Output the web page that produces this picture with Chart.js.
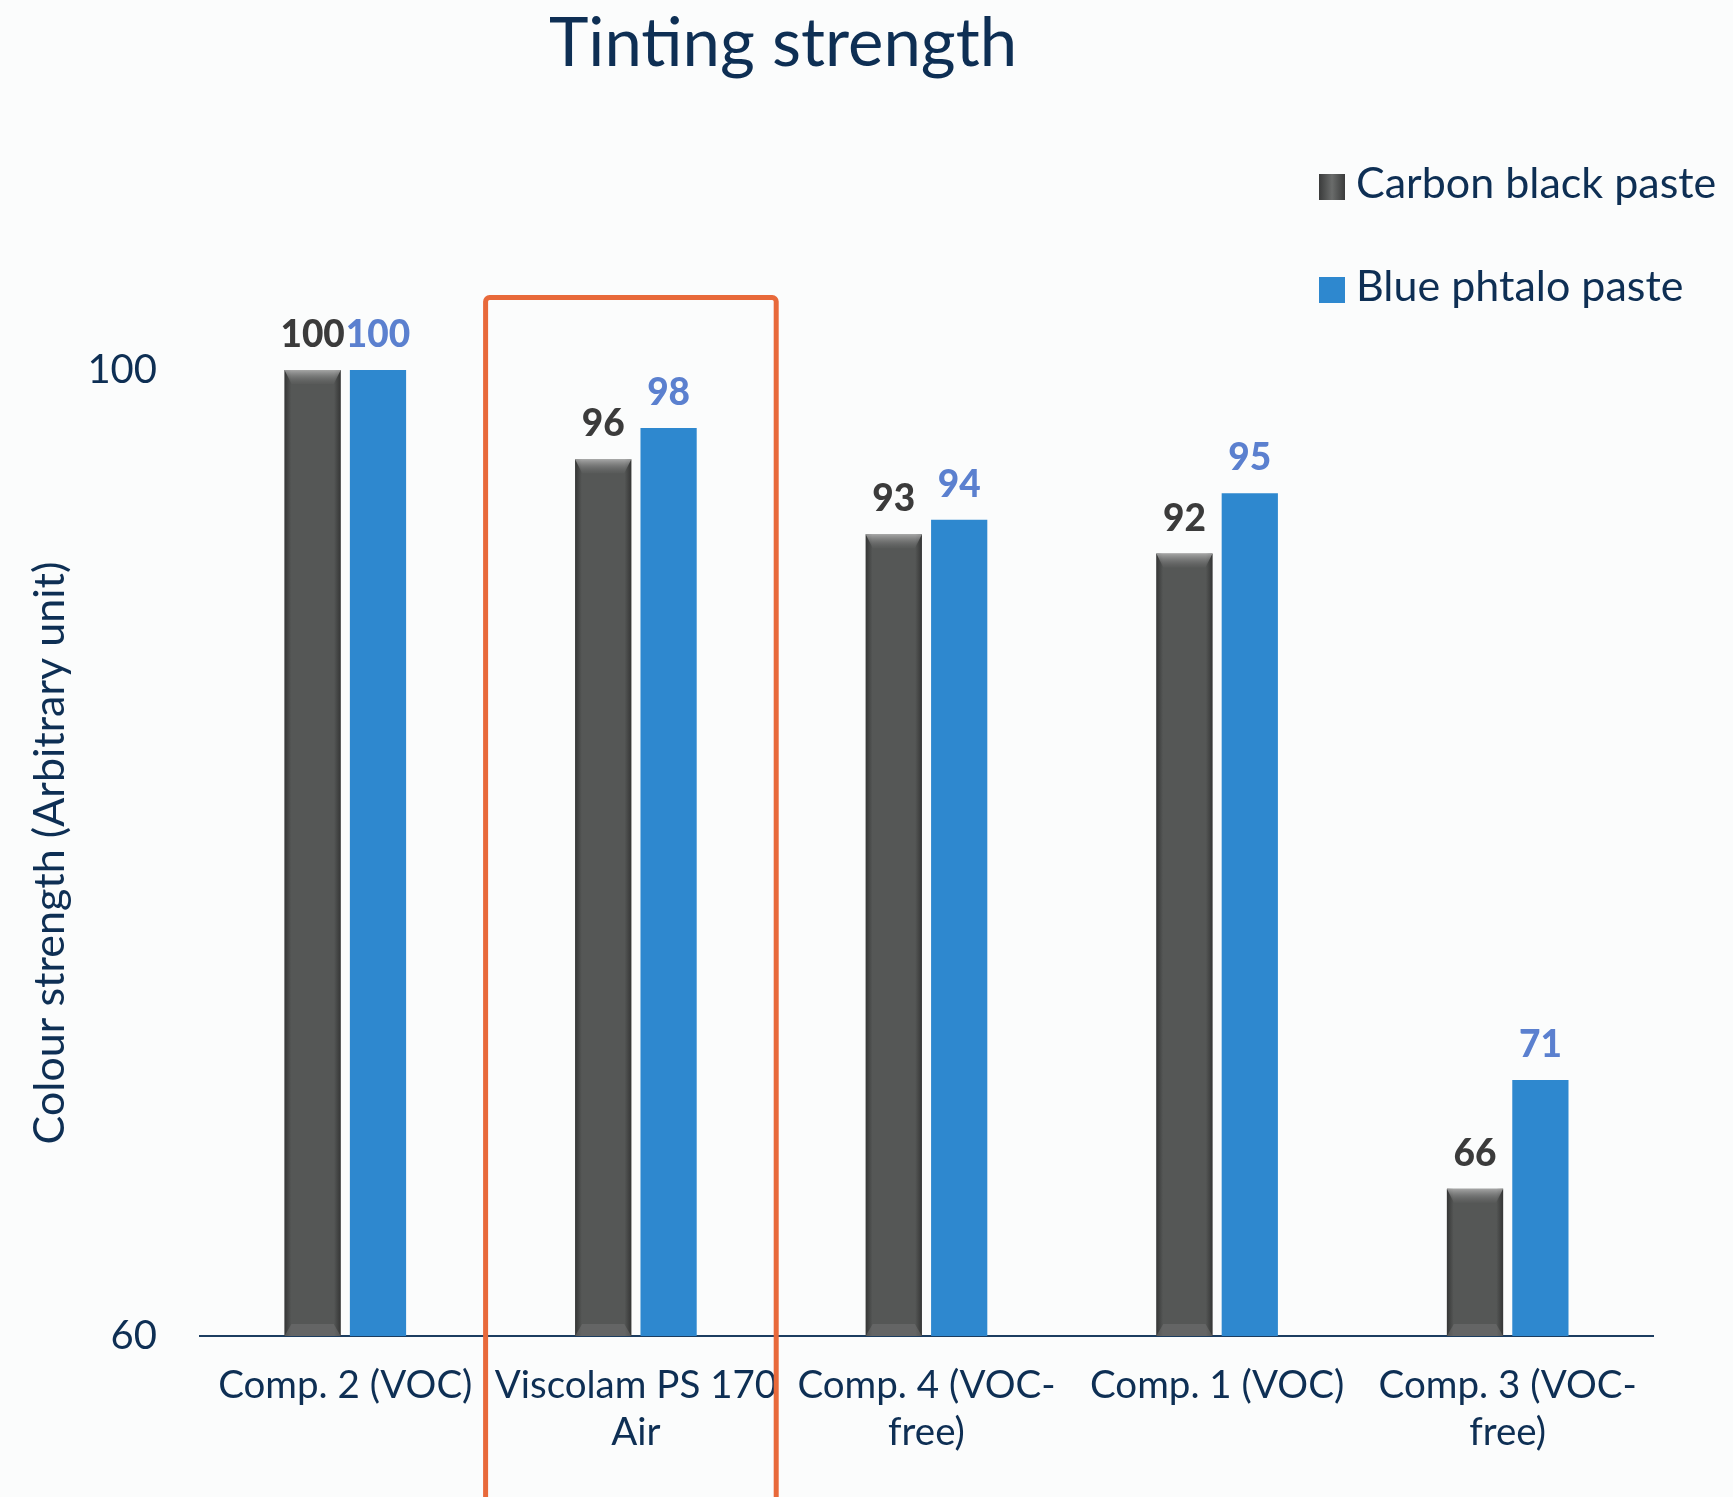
<!DOCTYPE html>
<html>
<head>
<meta charset="utf-8">
<title>Tinting strength</title>
<script src="https://cdn.jsdelivr.net/npm/chart.js@4.4.1/dist/chart.umd.min.js"></script>
<style>
  html, body { margin: 0; padding: 0; background: #fbfcfc; }
  #wrap { position: relative; width: 1733px; height: 1497px; }
</style>
</head>
<body>
<div id="wrap"><canvas id="Canvas-Main"></canvas></div>
<script>
// chart data (bar heights, labels show rounded values)
var categories = [
    ['Comp. 2 (VOC)'],
    ['Viscolam PS 170', 'Air'],
    ['Comp. 4 (VOC-', 'free)'],
    ['Comp. 1 (VOC)'],
    ['Comp. 3 (VOC-', 'free)']
];
var carbonBlack = [100, 96.3, 93.2, 92.4, 66.1];
var bluePhtalo = [100, 97.6, 93.8, 94.9, 70.6];
var yTicks = [60, 100];
var highlightIndex = 1; // Viscolam PS 170 Air

var navy = '#0e2f54';
var font = 'Lato, "Open Sans", sans-serif';

// gray bars get a bevelled look like the original
var bevelPlugin = {
    id: 'bevel',
    afterDatasetDraw: function (chart, args) {
        if (args.index !== 0) return;
        var ctx = chart.ctx;
        args.meta.data.forEach(function (bar) {
            var w = bar.width, l = bar.x - w / 2, r = bar.x + w / 2, t = bar.y;
            var b = Math.min(bar.base, chart.chartArea.bottom);
            ctx.save();
            var g = ctx.createLinearGradient(l, 0, r, 0);
            g.addColorStop(0, 'rgba(20,20,20,0.5)');
            g.addColorStop(0.12, 'rgba(20,20,20,0)');
            g.addColorStop(0.88, 'rgba(20,20,20,0)');
            g.addColorStop(1, 'rgba(20,20,20,0.5)');
            ctx.fillStyle = g;
            ctx.fillRect(l, t, w, b - t);
            // top highlight
            var tg = ctx.createLinearGradient(0, t, 0, t + 14);
            tg.addColorStop(0, 'rgba(200,200,200,0.7)');
            tg.addColorStop(1, 'rgba(120,120,120,0.1)');
            ctx.fillStyle = tg;
            ctx.beginPath();
            ctx.moveTo(l, t); ctx.lineTo(r, t); ctx.lineTo(r - 7, t + 14); ctx.lineTo(l + 7, t + 14);
            ctx.closePath(); ctx.fill();
            // bottom shade
            ctx.fillStyle = 'rgba(120,120,120,0.45)';
            ctx.beginPath();
            ctx.moveTo(l, b); ctx.lineTo(r, b); ctx.lineTo(r - 7, b - 12); ctx.lineTo(l + 7, b - 12);
            ctx.closePath(); ctx.fill();
            ctx.restore();
        });
    }
};

var labelsPlugin = {
    id: 'valueLabels',
    afterDatasetsDraw: function (chart) {
        var ctx = chart.ctx;
        var colors = ['#3b3b3b', '#5b80cf'];
        chart.data.datasets.forEach(function (ds, i) {
            var meta = chart.getDatasetMeta(i);
            meta.data.forEach(function (bar, j) {
                ctx.save();
                ctx.font = '900 37px ' + font;
                ctx.fillStyle = colors[i];
                ctx.textAlign = 'center';
                ctx.textBaseline = 'alphabetic';
                ctx.fillText(Math.round(ds.data[j]), bar.x, bar.y - 23);
                ctx.restore();
            });
        });
    }
};

var decorPlugin = {
    id: 'decor',
    afterDraw: function (chart) {
        var ctx = chart.ctx;
        var x = chart.scales.x, y = chart.scales.y;
        // title
        ctx.save();
        ctx.font = '400 67px ' + font;
        ctx.fillStyle = navy;
        ctx.textAlign = 'center';
        ctx.textBaseline = 'middle';
        ctx.fillText('Tinting strength', 783, 44);
        ctx.restore();

        // legend
        var ly = [187, 290];
        chart.data.datasets.forEach(function (ds, i) {
            ctx.save();
            if (i === 0) {
                var g = ctx.createLinearGradient(1319, 0, 1345, 0);
                g.addColorStop(0, '#3a3b3b');
                g.addColorStop(0.5, '#6a6c6b');
                g.addColorStop(1, '#3a3b3b');
                ctx.fillStyle = g;
            } else {
                ctx.fillStyle = ds.backgroundColor;
            }
            ctx.fillRect(1319, ly[i] - 13, 26, 26);
            ctx.font = '400 43px ' + font;
            ctx.fillStyle = navy;
            ctx.textBaseline = 'middle';
            ctx.fillText(ds.label, 1356, ly[i] - 3);
            ctx.restore();
        });

        // highlight box around one category
        var cw = (x.right - x.left) / chart.data.labels.length;
        var cx = x.getPixelForValue(highlightIndex);
        var top = y.getPixelForValue(103);
        ctx.save();
        ctx.strokeStyle = '#e8693a';
        ctx.lineWidth = 5;
        ctx.beginPath();
        ctx.roundRect(cx - cw / 2 - 5, top, cw, chart.height - top + 20, 4);
        ctx.stroke();
        ctx.restore();
    }
};

var ctx = document.getElementById('Canvas-Main').getContext('2d');
var myChart = new Chart(ctx, {
    type: 'bar',
    data: {
        labels: categories,
        datasets: [
            {
                label: 'Carbon black paste',
                data: carbonBlack,
                backgroundColor: '#555756',
                categoryPercentage: 0.45,
                barPercentage: 0.86
            },
            {
                label: 'Blue phtalo paste',
                data: bluePhtalo,
                backgroundColor: '#2e88cf',
                categoryPercentage: 0.45,
                barPercentage: 0.86
            }
        ]
    },
    options: {
        responsive: true,
        maintainAspectRatio: false,
        animation: false,
        layout: {
            padding: { top: 370, right: 80, left: 0, bottom: 0 }
        },
        plugins: {
            legend: { display: false },
            title: { display: false },
            tooltip: { enabled: false }
        },
        scales: {
            x: {
                grid: { display: false, drawTicks: false },
                border: { display: true, color: '#1c3d60', width: 2 },
                ticks: {
                    color: navy,
                    padding: 26,
                    maxRotation: 0,
                    autoSkip: false,
                    font: { family: font, size: 38.5, lineHeight: 1.22 }
                },
                afterFit: function (scale) { scale.height = 161; }
            },
            y: {
                min: 60,
                max: 100,
                afterBuildTicks: function (scale) {
                    scale.ticks = yTicks.map(function (v) { return { value: v }; });
                },
                grid: { display: false, drawTicks: false },
                border: { display: false },
                ticks: {
                    color: navy,
                    padding: 43,
                    font: { family: font, size: 40 }
                },
                title: {
                    display: true,
                    text: 'Colour strength (Arbitrary unit)',
                    color: navy,
                    font: { family: font, size: 43 },
                    padding: { top: 24, bottom: 0 }
                },
                afterFit: function (scale) { scale.width = 200; }
            }
        }
    },
    plugins: [bevelPlugin, labelsPlugin, decorPlugin]
});
</script>
</body>
</html>
